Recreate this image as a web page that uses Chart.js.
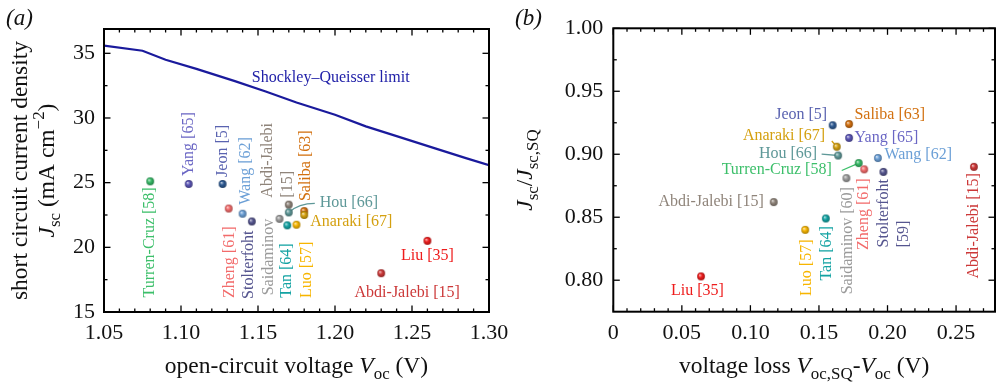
<!DOCTYPE html>
<html>
<head>
<meta charset="utf-8">
<script src="https://cdn.jsdelivr.net/npm/chart.js@4.4.1/dist/chart.umd.min.js"></script>
<style>
html,body{margin:0;padding:0;background:#fff;overflow:hidden;}
#wrap{position:relative;width:996px;height:386px;overflow:hidden;}
#chartA{position:absolute;left:0;top:0;}
#chartB{position:absolute;left:500px;top:0;}
#fontwarm{position:absolute;left:-999px;top:0;font-family:"Liberation Serif";font-size:16px;}
</style>
</head>
<body>
<div id="fontwarm">Aa <i>Aa</i></div>
<div id="wrap">
<canvas id="chartA" width="520" height="386"></canvas>
<canvas id="chartB" width="500" height="386"></canvas>
</div>
<script>
// =========================
// DATA
// =========================

const studies = [
    "Turren-Cruz [58]", "Yang [65]", "Jeon [5]", "Zheng [61]", "Wang [62]",
    "Stolterfoht [59]", "Saidaminov [60]", "Abdi-Jalebi [15]", "Hou [66]", "Tan [64]",
    "Luo [57]", "Saliba [63]", "Anaraki [67]", "Liu [35]", "Abdi-Jalebi [15]"
];

// panel (a)
const voc = [1.080, 1.105, 1.127, 1.131, 1.140, 1.146, 1.164, 1.170, 1.170, 1.169, 1.175, 1.180, 1.180, 1.260, 1.230];
const jsc = [25.1, 24.9, 24.9, 23.0, 22.6, 22.0, 22.2, 23.3, 22.7, 21.7, 21.75, 22.8, 22.5, 20.5, 18.0];

// panel (b)
const vLoss = [0.179, 0.172, 0.160, 0.183, 0.193, 0.197, 0.170, 0.117, 0.164, 0.155, 0.140, 0.172, 0.163, 0.064, 0.263];
const jscRatio = [0.893, 0.913, 0.923, 0.888, 0.897, 0.886, 0.881, 0.862, 0.899, 0.849, 0.840, 0.924, 0.906, 0.803, 0.890];

// Shockley-Queisser limit
const sqVoc = [1.05, 1.075, 1.09, 1.11, 1.135, 1.155, 1.175, 1.20, 1.22, 1.24, 1.265, 1.285, 1.30];
const sqJsc = [35.6, 35.2, 34.5, 33.8, 32.85, 32.05, 31.2, 30.25, 29.35, 28.6, 27.65, 26.9, 26.35];

// tick labels
const xTicksA = [1.05, 1.10, 1.15, 1.20, 1.25, 1.30];
const yTicksA = [15, 20, 25, 30, 35];
const xTicksB = [0, 0.05, 0.10, 0.15, 0.20, 0.25];
const yTicksB = [0.80, 0.85, 0.90, 0.95, 1.00];

// point labels
const labelsA = [
    "Turren-Cruz [58]", "Yang [65]", "Jeon [5]", "Zheng [61]", "Wang [62]",
    "Stolterfoht", "Saidaminov", ["Abdi-Jalebi", "[15]"], "Hou [66]", "Tan [64]",
    "Luo [57]", "Saliba [63]", "Anaraki [67]", "Liu [35]", "Abdi-Jalebi [15]"
];
const labelsB = [
    "Turren-Cruz [58]", "Yang [65]", "Jeon [5]", "Zheng [61]", "Wang [62]",
    ["Stolterfoht", "[59]"], "Saidaminov [60]", "Abdi-Jalebi [15]", "Hou [66]", "Tan [64]",
    "Luo [57]", "Saliba [63]", "Anaraki [67]", "Liu [35]", "Abdi-Jalebi [15]"
];
const sqLabel = "Shockley\u2013Queisser limit";

// =========================
// STYLE
// =========================

const FONT = '"Liberation Serif", "Times New Roman", Times, serif';
Chart.defaults.font.family = FONT;

const dotColors = [
    "#35b865", "#5b55b5", "#2d5a93", "#f26b6b", "#6b9fd6",
    "#55558f", "#9a9a9a", "#8f847a", "#5e9898", "#13a3a3",
    "#f7b500", "#d2700f", "#d4a010", "#ee1c1c", "#cc3838"
];
const textColors = [
    "#3cbf6a", "#6a66c4", "#5a63b0", "#f26b6b", "#6b9fd6",
    "#55558f", "#9a9a9a", "#8f847a", "#5e9898", "#13a3a3",
    "#f7b500", "#d2700f", "#d4a010", "#ee1c1c", "#cc3838"
];

// label offsets (px from the point)
const placeA = [
    {dx: 0, dy: 6, rot: true, align: "right"},
    {dx: 0, dy: -8, rot: true, align: "left"},
    {dx: 0, dy: -7, rot: true, align: "left"},
    {dx: 1, dy: 18, rot: true, align: "right"},
    {dx: 3, dy: -9, rot: true, align: "left"},
    {dx: -3, dy: 9, rot: true, align: "right"},
    {dx: -11, dy: 0, rot: true, align: "right"},
    {dx: -21, dy: -7, rot: true, align: "left", gap: 19.6},
    {dx: 31, dy: -10, align: "left", leader: {x: 26, y: -9, cx: 10, cy: -9}},
    {dx: 0, dy: 18, rot: true, align: "right"},
    {dx: 10, dy: 17, rot: true, align: "right"},
    {dx: 2, dy: -10, rot: true, align: "left"},
    {dx: 6, dy: 7, align: "left"},
    {dx: 0, dy: 15, align: "center"},
    {dx: 26, dy: 20, align: "center"}
];
const placeB = [
    {dx: -27, dy: 7, align: "right", leader: {x: -17, y: 7.4}},
    {dx: 5.5, dy: 0, align: "left"},
    {dx: -5.5, dy: -10.5, align: "right"},
    {dx: 0, dy: 9, rot: true, align: "right"},
    {dx: 6.5, dy: -3, align: "left"},
    {dx: 0, dy: 75.5, rot: true, align: "left", gap: 20},
    {dx: 1, dy: 9, rot: true, align: "right"},
    {dx: -10, dy: 0, align: "right"},
    {dx: -21, dy: -2, align: "right", leader: {x: -16.5, y: -1.3}},
    {dx: 1.3, dy: 7.7, rot: true, align: "right"},
    {dx: 1.6, dy: 9.7, rot: true, align: "right"},
    {dx: 5.3, dy: -9.7, align: "left"},
    {dx: -11.7, dy: -11, align: "right", leader: {x: -5, y: -5.7}},
    {dx: -3.7, dy: 14.7, align: "center"},
    {dx: 0.3, dy: 6.3, rot: true, align: "right"}
];

// =========================
// HELPERS
// =========================

function shade(hex, amt) {
    const n = parseInt(hex.slice(1), 16);
    const t = amt > 0 ? 255 : 0, p = Math.abs(amt);
    const ch = [n >> 16, (n >> 8) & 255, n & 255].map(c => Math.round(c + (t - c) * p));
    return "rgb(" + ch.join(",") + ")";
}

// small shaded ball used as point style
function sphere(color) {
    const size = 10, r = 3.9, m = size / 2;
    const c = document.createElement("canvas");
    c.width = c.height = size;
    const g = c.getContext("2d");
    const grad = g.createRadialGradient(m - 1.3, m - 1.4, 0.2, m, m, r);
    grad.addColorStop(0, shade(color, 0.7));
    grad.addColorStop(0.45, color);
    grad.addColorStop(1, shade(color, -0.3));
    g.fillStyle = grad;
    g.beginPath();
    g.arc(m, m, r, 0, Math.PI * 2);
    g.fill();
    return c;
}

// text with italic / subscript / superscript parts
function drawRich(ctx, parts, x, y, size, rot, align) {
    const fontFor = p => {
        const small = p[1] === "sub" || p[1] === "sup";
        return (p[1] === "i" ? "italic " : "") + (small ? size * 0.72 : size) + "px " + FONT;
    };
    let w = 0;
    parts.forEach(p => { ctx.font = fontFor(p); w += ctx.measureText(p[0]).width; });
    ctx.save();
    ctx.translate(x, y);
    if (rot) ctx.rotate(-Math.PI / 2);
    ctx.fillStyle = "#111";
    ctx.textAlign = "left";
    ctx.textBaseline = "alphabetic";
    let cx = align === "left" ? 0 : -w / 2;
    parts.forEach(p => {
        ctx.font = fontFor(p);
        const dy = p[1] === "sub" ? size * 0.27 : p[1] === "sup" ? -size * 0.42 : 0;
        ctx.fillText(p[0], cx, dy);
        cx += ctx.measureText(p[0]).width;
    });
    ctx.restore();
}

function axis(min, max, ticks, fmt, size, pad, isX) {
    return {
        type: "linear",
        min: min,
        max: max,
        grid: {display: false, drawTicks: false},
        border: {display: false},
        ticks: {
            color: "#111",
            font: {size: 22, family: FONT},
            padding: pad,
            autoSkip: false,
            maxRotation: 0,
            callback: v => fmt(v)
        },
        afterBuildTicks: s => { s.ticks = ticks.map(v => ({value: v})); },
        afterFit: s => { if (isX) s.height = size; else s.width = size; }
    };
}

function framePlugin(cfg) {
    return {
        id: "frame" + cfg.name,
        afterDraw(chart) {
            const ctx = chart.ctx, a = chart.chartArea;
            const x = chart.scales.x, y = chart.scales.y;
            ctx.save();
            ctx.strokeStyle = "#000";
            ctx.lineWidth = 1.3;
            const tick = (px, py, dx, dy) => {
                ctx.beginPath();
                ctx.moveTo(px, py);
                ctx.lineTo(px + dx, py + dy);
                ctx.stroke();
            };
            cfg.xMinor.forEach(v => {
                const p = x.getPixelForValue(v);
                tick(p, a.bottom, 0, -3.5); tick(p, a.top, 0, 3.5);
            });
            cfg.xMajor.forEach(v => {
                const p = x.getPixelForValue(v);
                tick(p, a.bottom, 0, -6.5); tick(p, a.top, 0, 6.5);
            });
            cfg.yMinor.forEach(v => {
                const p = y.getPixelForValue(v);
                tick(a.left, p, 3.5, 0); tick(a.right, p, -3.5, 0);
            });
            cfg.yMajor.forEach(v => {
                const p = y.getPixelForValue(v);
                tick(a.left, p, 6.5, 0); tick(a.right, p, -6.5, 0);
            });
            ctx.lineWidth = 2;
            ctx.strokeRect(a.left, a.top, a.right - a.left, a.bottom - a.top);

            const midX = (a.left + a.right) / 2, midY = (a.top + a.bottom) / 2;
            drawRich(ctx, cfg.xTitle, midX, 373, 23.5, false);
            cfg.yTitles.forEach(t => drawRich(ctx, t.parts, t.x, midY, 23.5, true));
            drawRich(ctx, [[cfg.letter, "i"]], cfg.letterX, 25, 23, false, "left");
            ctx.restore();
        }
    };
}

function labelPlugin(cfg) {
    return {
        id: "labels" + cfg.name,
        beforeDatasetsDraw(chart) {
            const ctx = chart.ctx;
            const pts = chart.getDatasetMeta(cfg.dataset).data;
            ctx.save();
            ctx.lineWidth = 1.3;
            cfg.place.forEach((p, i) => {
                if (!p.leader) return;
                const pt = pts[i], l = p.leader;
                ctx.strokeStyle = textColors[i];
                ctx.beginPath();
                ctx.moveTo(pt.x, pt.y);
                if (l.cx !== undefined) {
                    ctx.quadraticCurveTo(pt.x + l.cx, pt.y + l.cy, pt.x + l.x, pt.y + l.y);
                } else {
                    ctx.lineTo(pt.x + l.x, pt.y + l.y);
                }
                ctx.stroke();
            });
            ctx.restore();
        },
        afterDatasetsDraw(chart) {
            const ctx = chart.ctx;
            const pts = chart.getDatasetMeta(cfg.dataset).data;
            ctx.save();
            ctx.font = "16px " + FONT;
            ctx.textBaseline = "middle";
            cfg.texts.forEach((t, i) => {
                const p = cfg.place[i], pt = pts[i];
                const lines = Array.isArray(t) ? t : [t];
                ctx.fillStyle = textColors[i];
                ctx.textAlign = p.align;
                ctx.save();
                ctx.translate(pt.x + p.dx, pt.y + p.dy);
                if (p.rot) ctx.rotate(-Math.PI / 2);
                lines.forEach((s, k) => ctx.fillText(s, 0, k * (p.gap || 0)));
                ctx.restore();
            });
            if (cfg.extra) cfg.extra(chart, ctx);
            ctx.restore();
        }
    };
}

function minorTicks(from, to, step, majors) {
    const out = [];
    for (let v = from; v <= to + 1e-9; v += step) {
        const r = Math.round(v * 1000) / 1000;
        if (!majors.some(m => Math.abs(m - r) < 1e-6)) out.push(r);
    }
    return out;
}

function drawCharts() {

    const balls = dotColors.map(sphere);

    // =========================
    // (a) Jsc vs Voc
    // =========================

    new Chart(document.getElementById("chartA"), {
        type: "scatter",
        data: {
            datasets: [
                {
                    type: "line",
                    data: sqVoc.map((v, i) => ({x: v, y: sqJsc[i]})),
                    borderColor: "#1a1a9c",
                    borderWidth: 2.2,
                    pointRadius: 0,
                    tension: 0,
                    fill: false
                },
                {
                    data: voc.map((v, i) => ({x: v, y: jsc[i]})),
                    pointStyle: balls,
                    pointRadius: 4
                }
            ]
        },
        options: {
            responsive: false,
            animation: false,
            devicePixelRatio: 1,
            layout: {padding: {left: 0, top: 29, right: 31, bottom: 0}},
            plugins: {legend: {display: false}, tooltip: {enabled: false}},
            scales: {
                x: axis(1.05, 1.30, xTicksA, v => v.toFixed(2), 74, 8, true),
                y: axis(15, 36.88, yTicksA, v => String(v), 104, 9, false)
            }
        },
        plugins: [
            framePlugin({
                name: "A",
                xMajor: xTicksA, xMinor: minorTicks(1.05, 1.30, 0.01, xTicksA),
                yMajor: yTicksA, yMinor: minorTicks(15, 35, 2.5, yTicksA),
                xTitle: [["open-circuit voltage ", "n"], ["V", "i"], ["oc", "sub"], [" (V)", "n"]],
                yTitles: [
                    {x: 27, parts: [["short circuit current density", "n"]]},
                    {x: 53.5, parts: [["J", "i"], ["sc", "sub"], [" (mA cm", "n"], ["\u22122", "sup"], [")", "n"]]}
                ],
                letter: "(a)", letterX: 6
            }),
            labelPlugin({
                name: "A", dataset: 1, texts: labelsA, place: placeA,
                extra: (chart, ctx) => {
                    ctx.fillStyle = "#2020a8";
                    ctx.textAlign = "left";
                    ctx.textBaseline = "middle";
                    ctx.fillText(sqLabel, chart.scales.x.getPixelForValue(1.146), chart.scales.y.getPixelForValue(33.09));
                }
            })
        ]
    });

    // =========================
    // (b) Jsc/Jsc,SQ vs voltage loss
    // =========================

    new Chart(document.getElementById("chartB"), {
        type: "scatter",
        data: {
            datasets: [{
                data: vLoss.map((v, i) => ({x: v, y: jscRatio[i]})),
                pointStyle: balls,
                pointRadius: 4
            }]
        },
        options: {
            responsive: false,
            animation: false,
            devicePixelRatio: 1,
            layout: {padding: {left: 0, top: 28.3, right: 2.5, bottom: 0}},
            plugins: {legend: {display: false}, tooltip: {enabled: false}},
            scales: {
                x: axis(0, 0.2784, xTicksB, v => (v === 0 ? "0" : v.toFixed(2)), 74.3, 8, true),
                y: axis(0.775, 1.00, yTicksB, v => v.toFixed(2), 113.3, 10, false)
            }
        },
        plugins: [
            framePlugin({
                name: "B",
                xMajor: xTicksB, xMinor: minorTicks(0, 0.27, 0.01, xTicksB),
                yMajor: yTicksB, yMinor: minorTicks(0.80, 1.00, 0.025, yTicksB),
                xTitle: [["voltage loss ", "n"], ["V", "i"], ["oc,SQ", "sub"], ["-", "n"], ["V", "i"], ["oc", "sub"], [" (V)", "n"]],
                yTitles: [
                    {x: 32, parts: [["J", "i"], ["sc", "sub"], ["/", "n"], ["J", "i"], ["sc,SQ", "sub"]]}
                ],
                letter: "(b)", letterX: 15
            }),
            labelPlugin({name: "B", dataset: 0, texts: labelsB, place: placeB})
        ]
    });
}

Promise.all([
    document.fonts.load('16px "Liberation Serif"'),
    document.fonts.load('italic 16px "Liberation Serif"')
]).then(drawCharts, drawCharts);
</script>
</body>
</html>
